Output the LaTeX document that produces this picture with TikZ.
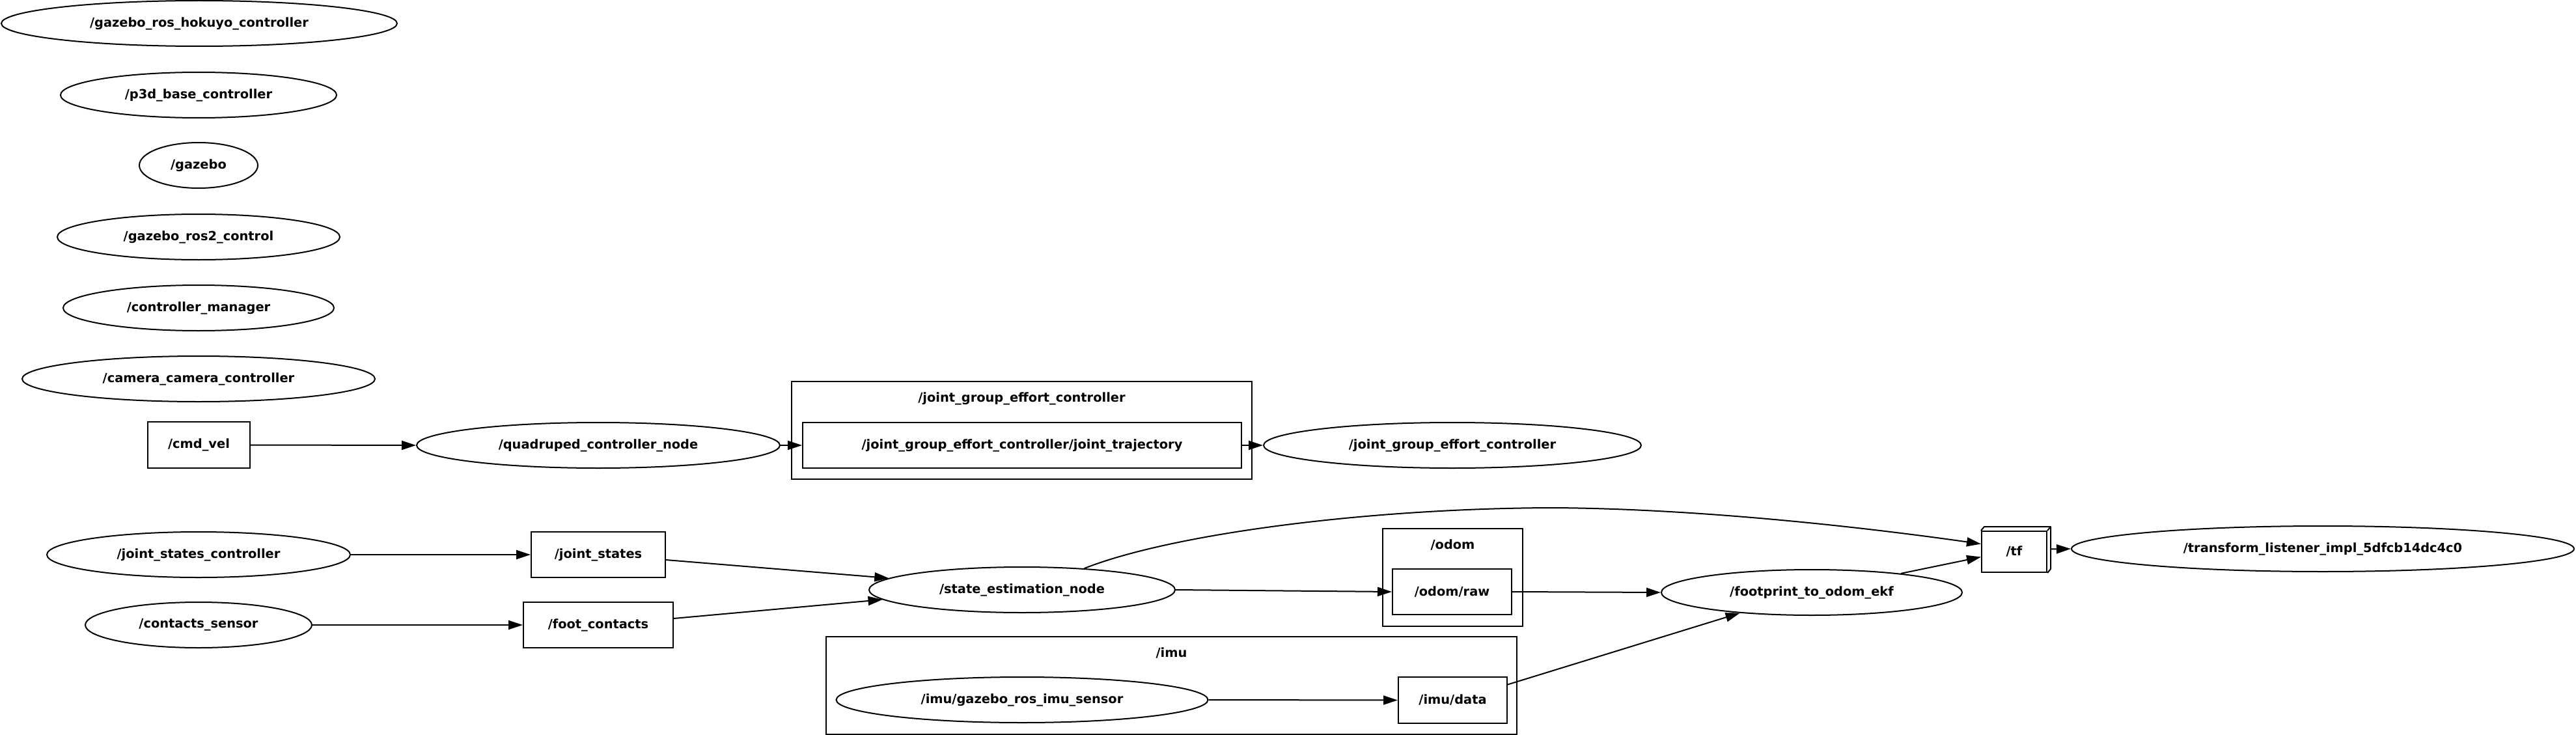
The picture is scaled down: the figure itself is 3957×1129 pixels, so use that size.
\documentclass[tikz,border=0pt]{standalone}
\usepackage{fontspec}
\setmainfont{DejaVu Sans}
\usetikzlibrary{shapes.geometric,arrows.meta,calc}
\begin{document}
\begin{tikzpicture}[x=1pt,y=-1pt,
  every node/.style={font=\fontsize{19.4}{23}\selectfont\bfseries, line width=2pt},
  ell/.style={draw, ellipse, inner sep=0pt, minimum height=70pt},
  topic/.style={draw, rectangle, inner sep=0pt, minimum height=70pt},
  clus/.style={draw, rectangle, inner sep=0pt, minimum height=150pt},
  conn/.style={line width=2pt, -{Triangle[length=22pt,width=14pt]}}]
\useasboundingbox (0,0) rectangle (3957,1129);

% isolated nodes
\node[ell, minimum width=608pt] (hok) at (306,36) {/gazebo\_ros\_hokuyo\_controller};
\node[ell, minimum width=424pt] (p3d) at (305,146) {/p3d\_base\_controller};
\node[ell, minimum width=182pt] (gaz) at (305,254) {/gazebo};
\node[ell, minimum width=434pt] (r2c) at (305,364) {/gazebo\_ros2\_control};
\node[ell, minimum width=416pt] (cm) at (305,473) {/controller\_manager};
\node[ell, minimum width=542pt] (cam) at (305,582) {/camera\_camera\_controller};

% clusters
\node[clus, minimum width=707pt] (cjge) at (1569.5,661) {};
\node (cjgel) at (1569.5,612) {/joint\_group\_effort\_controller};
\node[clus, minimum width=215pt] (codom) at (2231.5,887) {};
\node (codoml) at (2231.5,837) {/odom};
\node[clus, minimum width=1061pt] (cimu) at (1799.5,1053) {};
\node (cimul) at (1799.5,1003) {/imu};

% row 1
\node[topic, minimum width=157pt, minimum height=71pt] (cmd) at (305.5,683.5) {/cmd\_vel};
\node[ell, minimum width=558pt] (qc) at (919,684) {/quadruped\_controller\_node};
\node[topic, minimum width=674pt] (jtraj) at (1570,684) {/joint\_group\_effort\_controller/joint\_trajectory};
\node[ell, minimum width=580pt] (jge) at (2231,684) {/joint\_group\_effort\_controller};

% lower rows
\node[ell, minimum width=466pt] (jsc) at (305,852) {/joint\_states\_controller};
\node[topic, minimum width=206pt] (js) at (919,852) {/joint\_states};
\node[ell, minimum width=348pt] (cs) at (305,960) {/contacts\_sensor};
\node[topic, minimum width=230pt] (fc) at (919,960) {/foot\_contacts};
\node[ell, minimum width=470pt] (se) at (1570,906) {/state\_estimation\_node};
\node[topic, minimum width=183pt] (oraw) at (2230.5,909) {/odom/raw};
\node[ell, minimum width=571pt] (imus) at (1570,1075) {/imu/gazebo\_ros\_imu\_sensor};
\node[topic, minimum width=167pt, minimum height=71pt] (imud) at (2231.5,1075.5) {/imu/data};
\node[ell, minimum width=462pt] (fp) at (2783,910) {/footprint\_to\_odom\_ekf};
\node[topic, minimum width=100pt, minimum height=63pt] (tf) at (3094,847.5) {/tf};
\draw[line width=2pt, line join=round] (tf.north west) -- ([shift={(5,-6)}]tf.north west)
  -- ([shift={(5,-6)}]tf.north east) -- ([shift={(5,-6)}]tf.south east) -- (tf.south east);
\draw[line width=2pt] (tf.north east) -- ([shift={(5,-6)}]tf.north east);
\node[ell, minimum width=772pt] (tl) at (3568,843) {/transform\_listener\_impl\_5dfcb14dc4c0};

% connectors
\draw[conn] (cmd.east) -- (qc.west);
\draw[conn] (qc.east) -- (jtraj.west);
\draw[conn] (jtraj.east) -- (jge.west);
\draw[conn] (jsc.east) -- (js.west);
\draw[conn] (cs.east) -- (fc.west);
\draw[conn] ([yshift=-8pt]js.east) -- (se.175.5);
\draw[conn] ([yshift=10pt]fc.east) -- (se.184.5);
\draw[conn] (se.19.5) .. controls (1800,820) and (2100,781) .. (2383,780)
  .. controls (2600,781) and (2850,808) .. ([yshift=12pt]tf.west);
\draw[conn] (se.east) -- (oraw.west);
\draw[conn] (oraw.east) -- (fp.west);
\draw[conn] (imus.east) -- (imud.west);
\draw[conn] ([yshift=24pt]imud.east) -- (fp.196);
\draw[conn] (fp.12.5) -- ([yshift=-8pt]tf.west);
\draw[conn] ([shift={(5,-4)}]tf.east) -- (tl.west);
\end{tikzpicture}
\end{document}
